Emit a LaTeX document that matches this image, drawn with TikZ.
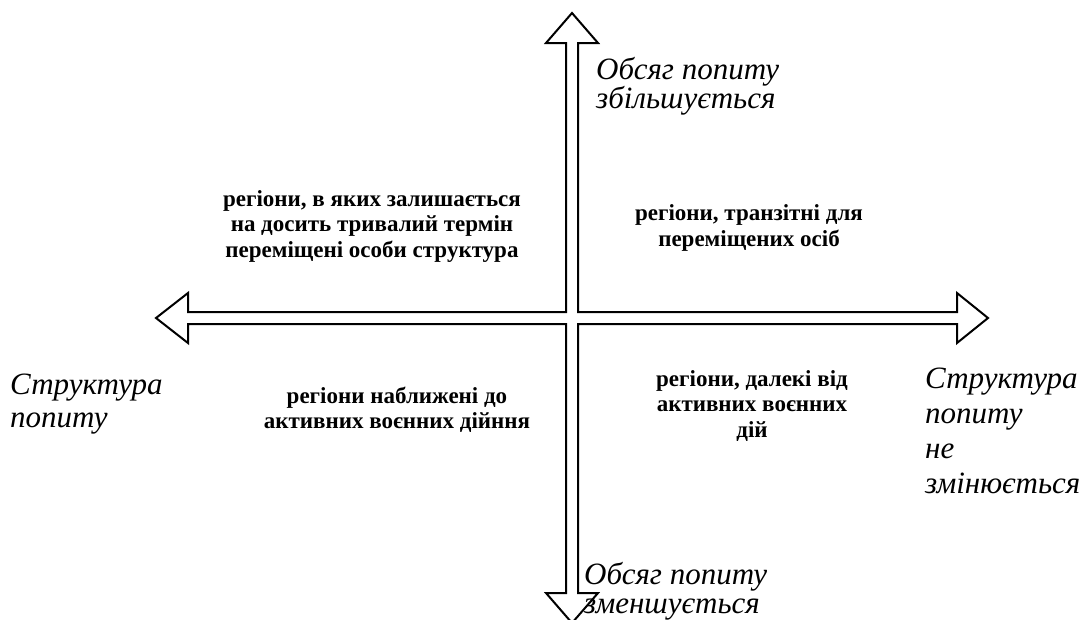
\documentclass[tikz,border=0pt]{standalone}
\usepackage{fontspec}
\setmainfont{Liberation Serif}
\begin{document}
\begin{tikzpicture}[x=1pt,y=-1pt,
    axislabel/.style={font=\fontsize{31}{29}\selectfont\itshape, align=left, anchor=north west, inner sep=0pt},
    region/.style={font=\fontsize{23}{25.5}\selectfont\bfseries, align=center, inner sep=0pt}]
    \useasboundingbox (0,0) rectangle (1084,619);
    % the cross of four hollow arrows
    \draw[line width=2pt, line join=miter] (566,43) -- (546,43) -- (572,13) -- (598,43) -- (578,43) -- (578,312)
        -- (957,312) -- (957,293) -- (988,318) -- (957,343) -- (957,324) -- (578,324)
        -- (578,593) -- (598,593) -- (572,623) -- (546,593) -- (566,593) -- (566,324)
        -- (188,324) -- (188,343) -- (156,318) -- (188,293) -- (188,312) -- (566,312) -- cycle;
    % axis labels
    \node[axislabel] (up) at (596,57) {Обсяг попиту\\збільшується};
    \node[axislabel, font=\fontsize{31}{29}\selectfont\itshape] (down) at (584,562) {Обсяг попиту\\зменшується};
    \node[axislabel, font=\fontsize{31}{33}\selectfont\itshape] (left) at (10,374) {Структура\\попиту};
    \node[axislabel, font=\fontsize{31}{35}\selectfont\itshape] (right) at (925,368) {Структура\\попиту\\не\\змінюється};
    % quadrants
    \node[region] (ul) at (372,226) {регіони, в яких залишається\\на досить тривалий термін\\переміщені особи структура};
    \node[region] (ur) at (749,228) {регіони, транзітні для\\переміщених осіб};
    \node[region] (ll) at (397,410) {регіони наближені до\\активних воєнних дійння};
    \node[region] (lr) at (752,406) {регіони, далекі від\\активних воєнних\\дій};
\end{tikzpicture}
\end{document}
